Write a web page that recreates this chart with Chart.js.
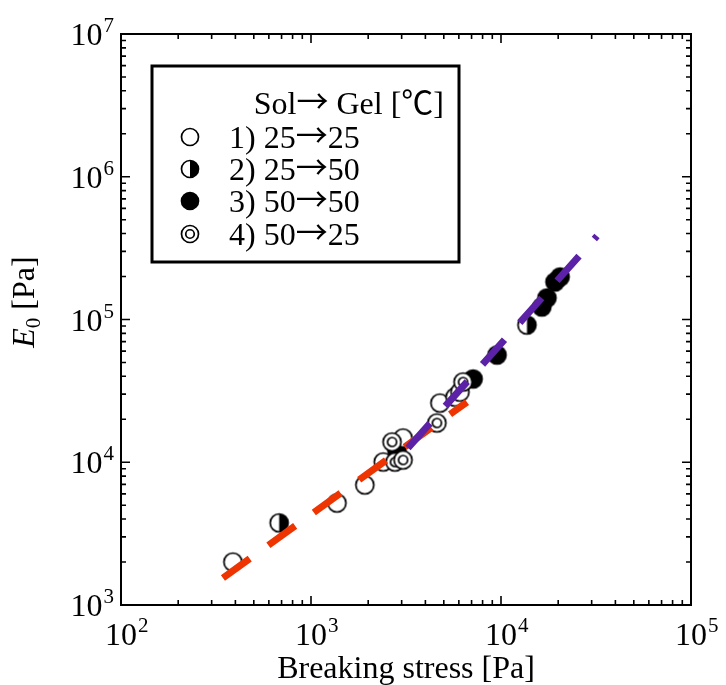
<!DOCTYPE html>
<html>
<head>
<meta charset="utf-8">
<script src="https://cdn.jsdelivr.net/npm/chart.js@4.4.1/dist/chart.umd.min.js"></script>
<style>
html,body{margin:0;padding:0;background:#fff;}
#wrap{width:726px;height:685px;}
</style>
</head>
<body>
<div id="wrap"><canvas id="c" width="726" height="685"></canvas></div>
<script>
// ---- data ----
const s1X = [388, 1370, 1920, 2400, 3050, 4770, 5730, 6080];
const s1Y = [2000, 5180, 6930, 10050, 14800, 26000, 28600, 31000];
const s2X = [680, 13700];
const s2Y = [3760, 91500];
const s3X = [2835, 7130, 9530, 16400, 17460, 19230, 20460];
const s3Y = [11990, 38300, 56400, 122400, 141500, 183200, 198500];
const s4X = [2669, 2767, 3050, 4600, 6310];
const s4Y = [13870, 10040, 10370, 18840, 36500];
const fitRedX = [344, 6620];
const fitRedY = [1546, 26400];
const fitPurpleX = [3240, 32010];
const fitPurpleY = [12585, 384600];
const legendTitle = 'Sol\u2192 Gel [\u2103]';
const legendLabels = ['1) 25\u219225', '2) 25\u219250', '3) 50\u219250', '4) 50\u219225'];
const xTickExps = [2, 3, 4, 5];
const yTickExps = [3, 4, 5, 6, 7];
const xTitle = 'Breaking stress [Pa]';

const pts = (xs, ys) => xs.map((x, i) => ({x, y: ys[i]}));

const FONT = '"Liberation Serif", "Times New Roman", "Noto Sans CJK JP", serif';
const ARROWFONT = '"Noto Sans CJK JP", "Noto Sans CJK SC", sans-serif';

function makeMarker(type, r) {
  const s = Math.ceil(2 * r + 5);
  const c = document.createElement('canvas');
  c.width = s; c.height = s;
  const g = c.getContext('2d');
  const cx = s / 2, cy = s / 2;
  g.lineWidth = 1.7;
  g.strokeStyle = '#000';
  g.beginPath(); g.arc(cx, cy, r, 0, Math.PI * 2);
  g.fillStyle = type === 'filled' ? '#000' : '#fff';
  g.fill();
  if (type === 'half') {
    g.beginPath(); g.arc(cx, cy, r, -Math.PI / 2, Math.PI / 2); g.closePath();
    g.fillStyle = '#000'; g.fill();
  }
  g.beginPath(); g.arc(cx, cy, r, 0, Math.PI * 2); g.stroke();
  if (type === 'ring') {
    g.beginPath(); g.arc(cx, cy, r * 0.5, 0, Math.PI * 2); g.stroke();
  }
  return c;
}
const R = 9;
const mOpen = makeMarker('open', R), mHalf = makeMarker('half', R),
      mFilled = makeMarker('filled', R), mRing = makeMarker('ring', R);
const lOpen = makeMarker('open', 8.5), lHalf = makeMarker('half', 8.5),
      lFilled = makeMarker('filled', 8.5), lRing = makeMarker('ring', 8.5);

// draws text where the arrow glyph uses a wide CJK arrow
function drawRich(ctx, text, x, y, align) {
  const parts = text.split(/(\u2192)/).filter(s => s.length);
  const fontOf = p => p === '\u2192' ? '32px ' + ARROWFONT : '32px ' + FONT;
  let total = 0;
  const ws = parts.map(p => { ctx.font = fontOf(p); const w = ctx.measureText(p).width; total += w; return w; });
  let cx = align === 'right' ? x - total : x;
  ctx.textAlign = 'left';
  parts.forEach((p, i) => {
    ctx.font = fontOf(p);
    ctx.fillText(p, cx, p === '\u2192' ? y - 1 : y);
    cx += ws[i];
  });
}

function drawPow(ctx, exp, x, y, mode) {
  ctx.save();
  ctx.fillStyle = '#000';
  ctx.textBaseline = 'alphabetic';
  ctx.textAlign = 'left';
  ctx.font = '32px ' + FONT;
  const w10 = ctx.measureText('10').width;
  ctx.font = '21px ' + FONT;
  const ws = ctx.measureText(String(exp)).width;
  let x0, base;
  if (mode === 'x') { x0 = x - w10 / 2; base = y; }
  else { x0 = x - w10 - ws - 1; base = y + 11; }
  ctx.font = '32px ' + FONT;
  ctx.fillText('10', x0, base);
  ctx.font = '21px ' + FONT;
  ctx.fillText(String(exp), x0 + w10 + 1, base - 13);
  ctx.restore();
}

const decor = {
  id: 'decor',
  afterDraw(chart) {
    const ctx = chart.ctx;
    const xs = chart.scales.x, ys = chart.scales.y;
    const a = chart.chartArea;
    ctx.save();
    ctx.strokeStyle = '#000';
    ctx.lineWidth = 2;
    ctx.strokeRect(a.left, a.top, a.right - a.left, a.bottom - a.top);
    ctx.lineWidth = 1.6;
    ctx.beginPath();
    for (let e = 2; e <= 5; e++) {
      for (let m = 1; m <= 9; m++) {
        const v = m * Math.pow(10, e);
        if (v > 1e5 + 1) break;
        const px = xs.getPixelForValue(v);
        const L = m === 1 ? 9 : 5;
        ctx.moveTo(px, a.bottom); ctx.lineTo(px, a.bottom - L);
        ctx.moveTo(px, a.top); ctx.lineTo(px, a.top + L);
      }
    }
    for (let e = 3; e <= 7; e++) {
      for (let m = 1; m <= 9; m++) {
        const v = m * Math.pow(10, e);
        if (v > 1e7 + 1) break;
        const py = ys.getPixelForValue(v);
        const L = m === 1 ? 9 : 5;
        ctx.moveTo(a.left, py); ctx.lineTo(a.left + L, py);
        ctx.moveTo(a.right, py); ctx.lineTo(a.right - L, py);
      }
    }
    ctx.stroke();
    xTickExps.forEach(e => drawPow(ctx, e, xs.getPixelForValue(Math.pow(10, e)), 645, 'x'));
    yTickExps.forEach(e => drawPow(ctx, e, 114, ys.getPixelForValue(Math.pow(10, e)), 'y'));
    ctx.fillStyle = '#000';
    ctx.font = '32px ' + FONT;
    ctx.textAlign = 'center';
    ctx.textBaseline = 'alphabetic';
    ctx.fillText(xTitle, (a.left + a.right) / 2, 678);
    ctx.save();
    ctx.translate(34, 302);
    ctx.rotate(-Math.PI / 2);
    ctx.textAlign = 'left';
    ctx.font = 'italic 32px ' + FONT;
    const wE = ctx.measureText('E').width;
    ctx.font = '21px ' + FONT;
    const w0 = ctx.measureText('0').width;
    ctx.font = '32px ' + FONT;
    const wP = ctx.measureText(' [Pa]').width;
    let tx = -(wE + w0 + wP) / 2;
    ctx.font = 'italic 32px ' + FONT;
    ctx.fillText('E', tx, 0); tx += wE;
    ctx.font = '21px ' + FONT;
    ctx.fillText('0', tx, 6); tx += w0;
    ctx.font = '32px ' + FONT;
    ctx.fillText(' [Pa]', tx, 0);
    ctx.restore();
    // legend
    ctx.fillStyle = '#fff';
    ctx.fillRect(152, 66, 307, 196);
    ctx.strokeStyle = '#000';
    ctx.lineWidth = 3;
    ctx.strokeRect(152, 66, 307, 196);
    ctx.fillStyle = '#000';
    drawRich(ctx, legendTitle, 444, 114, 'right');
    const mk = [lOpen, lHalf, lFilled, lRing];
    const rowsY = [137, 169, 201, 234];
    legendLabels.forEach((t, i) => {
      const m = mk[i];
      ctx.drawImage(m, 190 - m.width / 2, rowsY[i] - m.height / 2);
      drawRich(ctx, t, 229, rowsY[i] + 11, 'left');
    });
    ctx.restore();
  }
};

new Chart(document.getElementById('c'), {
  type: 'scatter',
  data: {
    datasets: [
      {label: 'fit2', data: pts(fitPurpleX, fitPurpleY), showLine: true, borderColor: '#5b21a6',
       borderWidth: 7, borderDash: [33, 23], borderCapStyle: 'butt', pointRadius: 0, order: 0},
      {label: 'fit1', data: pts(fitRedX, fitRedY), showLine: true, borderColor: '#ee3400',
       borderWidth: 7, borderDash: [33, 23], borderCapStyle: 'butt', pointRadius: 0, order: 1},
      {label: legendLabels[3], data: pts(s4X, s4Y), pointStyle: mRing, pointRadius: R, order: 2},
      {label: legendLabels[1], data: pts(s2X, s2Y), pointStyle: mHalf, pointRadius: R, order: 3},
      {label: legendLabels[0], data: pts(s1X, s1Y), pointStyle: mOpen, pointRadius: R, order: 4},
      {label: legendLabels[2], data: pts(s3X, s3Y), pointStyle: mFilled, pointRadius: R, order: 5}
    ]
  },
  options: {
    responsive: false,
    animation: false,
    devicePixelRatio: 1,
    layout: {padding: {left: 121, right: 35, top: 34, bottom: 80}},
    plugins: {legend: {display: false}, tooltip: {enabled: false}},
    scales: {
      x: {type: 'logarithmic', min: 100, max: 100000, display: false},
      y: {type: 'logarithmic', min: 1000, max: 10000000, display: false}
    }
  },
  plugins: [decor]
});
</script>
</body>
</html>
